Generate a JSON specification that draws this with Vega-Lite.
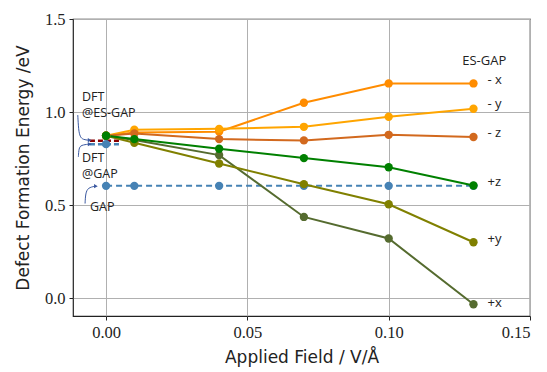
{
  "$schema": "https://vega.github.io/schema/vega-lite/v6.json",
  "width": 457,
  "height": 297,
  "autosize": {"type": "none"},
  "padding": {"left": 73, "top": 19, "right": 17, "bottom": 56},
  "background": "white",
  "config": {
    "view": {"stroke": "#222", "strokeWidth": 1.2},
    "axis": {
      "grid": true, "gridColor": "#b0b0b0", "gridWidth": 1,
      "domain": false,
      "tickColor": "#222", "tickSize": 4,
      "labelFont": "Liberation Serif", "labelFontSize": 16.5, "labelColor": "#222",
      "titleFont": "DejaVu Sans", "titleFontSize": 17, "titleFontWeight": "normal", "titleColor": "#222"
    }
  },
  "datasets": {
    "series": [
      {"s": "-x", "x": 0, "y": 0.873}, {"s": "-x", "x": 0.01, "y": 0.89}, {"s": "-x", "x": 0.04, "y": 0.895}, {"s": "-x", "x": 0.07, "y": 1.05}, {"s": "-x", "x": 0.1, "y": 1.154}, {"s": "-x", "x": 0.13, "y": 1.154},
      {"s": "-y", "x": 0, "y": 0.873}, {"s": "-y", "x": 0.01, "y": 0.905}, {"s": "-y", "x": 0.04, "y": 0.91}, {"s": "-y", "x": 0.07, "y": 0.921}, {"s": "-y", "x": 0.1, "y": 0.975}, {"s": "-y", "x": 0.13, "y": 1.018},
      {"s": "-z", "x": 0, "y": 0.873}, {"s": "-z", "x": 0.01, "y": 0.885}, {"s": "-z", "x": 0.04, "y": 0.855}, {"s": "-z", "x": 0.07, "y": 0.848}, {"s": "-z", "x": 0.1, "y": 0.878}, {"s": "-z", "x": 0.13, "y": 0.866},
      {"s": "+x", "x": 0, "y": 0.873}, {"s": "+x", "x": 0.01, "y": 0.85}, {"s": "+x", "x": 0.04, "y": 0.769}, {"s": "+x", "x": 0.07, "y": 0.437}, {"s": "+x", "x": 0.1, "y": 0.321}, {"s": "+x", "x": 0.13, "y": -0.032},
      {"s": "+y", "x": 0, "y": 0.873}, {"s": "+y", "x": 0.01, "y": 0.835}, {"s": "+y", "x": 0.04, "y": 0.724}, {"s": "+y", "x": 0.07, "y": 0.613}, {"s": "+y", "x": 0.1, "y": 0.505}, {"s": "+y", "x": 0.13, "y": 0.301},
      {"s": "+z", "x": 0, "y": 0.873}, {"s": "+z", "x": 0.01, "y": 0.855}, {"s": "+z", "x": 0.04, "y": 0.803}, {"s": "+z", "x": 0.07, "y": 0.753}, {"s": "+z", "x": 0.1, "y": 0.704}, {"s": "+z", "x": 0.13, "y": 0.606}
    ],
    "gap": [
      {"x": 0, "y": 0.604}, {"x": 0.01, "y": 0.604}, {"x": 0.04, "y": 0.604}, {"x": 0.07, "y": 0.604}, {"x": 0.1, "y": 0.604}, {"x": 0.13, "y": 0.604}
    ],
    "dftes": [
      {"x": -0.0057, "y": 0.846}, {"x": 0.005, "y": 0.846}
    ],
    "dftgap": [
      {"x": -0.0057, "y": 0.828}, {"x": 0.005, "y": 0.828}
    ],
    "arrows": [
      {"a": 1, "o": 1, "x": -0.01001, "y": 0.984}, {"a": 1, "o": 2, "x": -0.00973, "y": 0.903}, {"a": 1, "o": 3, "x": -0.0092, "y": 0.867}, {"a": 1, "o": 4, "x": -0.00814, "y": 0.852}, {"a": 1, "o": 5, "x": -0.00602, "y": 0.849},
      {"a": 2, "o": 1, "x": -0.0098, "y": 0.76}, {"a": 2, "o": 2, "x": -0.00962, "y": 0.806}, {"a": 2, "o": 3, "x": -0.00885, "y": 0.823}, {"a": 2, "o": 4, "x": -0.00602, "y": 0.828},
      {"a": 3, "o": 1, "x": -0.00743, "y": 0.509}, {"a": 3, "o": 2, "x": -0.00725, "y": 0.565}, {"a": 3, "o": 3, "x": -0.00637, "y": 0.594}, {"a": 3, "o": 4, "x": -0.00389, "y": 0.602}
    ],
    "heads": [
      {"x": -0.0058, "y": 0.849}, {"x": -0.0058, "y": 0.828}, {"x": -0.0036, "y": 0.602}
    ],
    "notes": [
      {"t": "DFT", "x": -0.0085, "y": 1.083}, {"t": "@ES-GAP", "x": -0.0085, "y": 0.996},
      {"t": "DFT", "x": -0.0085, "y": 0.755}, {"t": "@GAP", "x": -0.0085, "y": 0.667},
      {"t": "GAP", "x": -0.0057, "y": 0.489}
    ],
    "labels": [
      {"t": "- x", "y": 1.172}, {"t": "- y", "y": 1.043}, {"t": "- z", "y": 0.887},
      {"t": "+z", "y": 0.624}, {"t": "+y", "y": 0.317}, {"t": "+x", "y": -0.027}
    ]
  },
  "layer": [
    {
      "data": {"name": "gap"},
      "mark": {"type": "line", "color": "#4682b4", "strokeWidth": 2, "strokeDash": [6, 4], "point": {"filled": true, "size": 70, "color": "#4682b4"}},
      "encoding": {
        "x": {"field": "x", "type": "quantitative", "scale": {"domain": [-0.0117, 0.15], "nice": false, "zero": false}, "axis": {"values": [0, 0.05, 0.1, 0.15], "format": ".2f", "title": "Applied Field / V/Å", "labelPadding": 4, "titlePadding": 9}},
        "y": {"field": "y", "type": "quantitative", "scale": {"domain": [-0.095, 1.5], "nice": false, "zero": false}, "axis": {"values": [0, 0.5, 1, 1.5], "format": ".1f", "title": "Defect Formation Energy /eV", "labelPadding": 4, "titlePadding": 12}}
      }
    },
    {
      "data": {"name": "dftes"},
      "mark": {"type": "line", "strokeWidth": 2.5, "strokeDash": [5, 3], "color": "#8b0000"},
      "encoding": {"x": {"field": "x", "type": "quantitative"}, "y": {"field": "y", "type": "quantitative"}}
    },
    {
      "data": {"name": "dftgap"},
      "mark": {"type": "line", "strokeWidth": 2.5, "strokeDash": [5, 3], "color": "#4682b4"},
      "encoding": {"x": {"field": "x", "type": "quantitative"}, "y": {"field": "y", "type": "quantitative"}}
    },
    {
      "data": {"values": [{"x": 0, "y": 0.828}]},
      "mark": {"type": "point", "filled": true, "size": 70, "color": "#4682b4", "opacity": 1},
      "encoding": {"x": {"field": "x", "type": "quantitative"}, "y": {"field": "y", "type": "quantitative"}}
    },
    {
      "data": {"name": "series"},
      "mark": {"type": "line", "strokeWidth": 2, "point": {"filled": true, "size": 70, "opacity": 1}},
      "encoding": {
        "x": {"field": "x", "type": "quantitative"},
        "y": {"field": "y", "type": "quantitative"},
        "color": {"field": "s", "type": "nominal", "scale": {"domain": ["-x", "-y", "-z", "+x", "+y", "+z"], "range": ["#ff8c00", "#ffa500", "#d2691e", "#556b2f", "#808000", "#008000"]}, "legend": null}
      }
    },
    {
      "data": {"name": "arrows"},
      "mark": {"type": "line", "interpolate": "basis", "color": "#3a58a0", "strokeWidth": 1},
      "encoding": {
        "x": {"field": "x", "type": "quantitative"},
        "y": {"field": "y", "type": "quantitative"},
        "detail": {"field": "a"},
        "order": {"field": "o"}
      }
    },
    {
      "data": {"name": "heads"},
      "mark": {"type": "point", "shape": "triangle-right", "filled": true, "size": 18, "color": "#3a58a0", "opacity": 1},
      "encoding": {"x": {"field": "x", "type": "quantitative"}, "y": {"field": "y", "type": "quantitative"}}
    },
    {
      "data": {"name": "notes"},
      "mark": {"type": "text", "align": "left", "baseline": "middle", "font": "Open Sans", "fontSize": 12.5, "color": "#222"},
      "encoding": {"x": {"field": "x", "type": "quantitative"}, "y": {"field": "y", "type": "quantitative"}, "text": {"field": "t"}}
    },
    {
      "data": {"name": "labels"},
      "mark": {"type": "text", "align": "left", "baseline": "middle", "font": "Open Sans", "fontSize": 13, "color": "#222", "dx": 14},
      "encoding": {"x": {"datum": 0.13, "type": "quantitative"}, "y": {"field": "y", "type": "quantitative"}, "text": {"field": "t"}}
    },
    {
      "data": {"values": [{"t": "ES-GAP", "x": 0.1338, "y": 1.274}]},
      "mark": {"type": "text", "align": "center", "baseline": "middle", "font": "Open Sans", "fontSize": 13, "color": "#222"},
      "encoding": {"x": {"field": "x", "type": "quantitative"}, "y": {"field": "y", "type": "quantitative"}, "text": {"field": "t"}}
    }
  ]
}
